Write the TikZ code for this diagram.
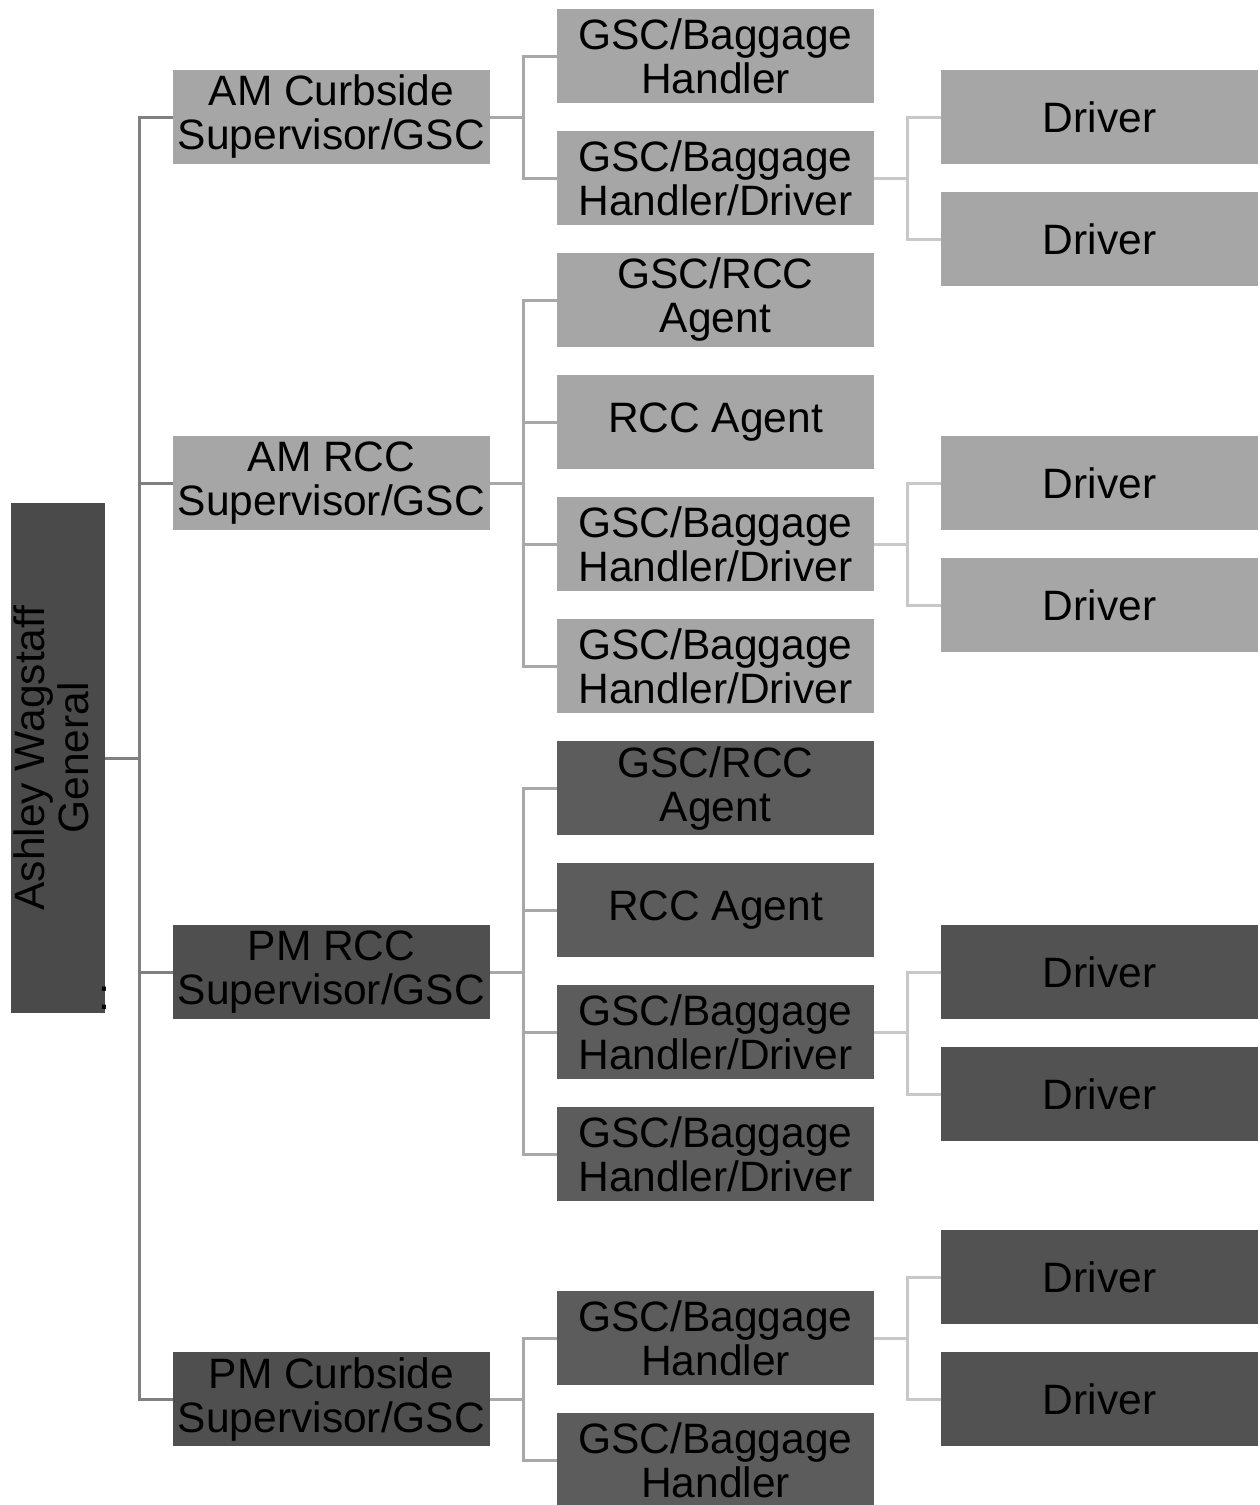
\documentclass[tikz,border=0pt]{standalone}
\usepackage{fontspec}
\setmainfont{Liberation Sans}
\definecolor{rootfill}{HTML}{4A4A4A}
\definecolor{lightfill}{HTML}{A6A6A6}
\definecolor{darkA}{HTML}{4F4F4F}
\definecolor{darkB}{HTML}{5C5C5C}
\definecolor{darkC}{HTML}{525252}
\definecolor{lineA}{HTML}{808080}
\definecolor{lineB}{HTML}{A8A8A8}
\definecolor{lineC}{HTML}{C8C8C8}
\begin{document}
\begin{tikzpicture}[x=1pt,y=-1pt,
  every node/.style={inner sep=0pt, outer sep=0pt},
  orgbox/.style={minimum width=317pt, minimum height=94pt, align=center,
    font=\fontsize{42.5}{44}\selectfont, text=black},
  lightbox/.style={orgbox, fill=lightfill},
  darkone/.style={orgbox, fill=darkA},
  darktwo/.style={orgbox, fill=darkB},
  darkthree/.style={orgbox, fill=darkC},
  rootbox/.style={minimum width=94pt, minimum height=510pt, fill=rootfill,
    font=\fontsize{42.5}{44}\selectfont, text=black},
  linkA/.style={draw=lineA, line width=3pt},
  linkB/.style={draw=lineB, line width=3pt},
  linkC/.style={draw=lineC, line width=3pt}]
\useasboundingbox (0,0) rectangle (1260,1505);

% root
\node[rootbox] (root) at (58,758) {\rotatebox{90}{\begin{tabular}{@{}c@{}}Ashley Wagstaff\\General\end{tabular}}};
\node[font=\fontsize{42.5}{44}\selectfont, anchor=base, text=black] (colon) at (104,1009) {:};

% level 1
\node[lightbox] (amcurb) at (331.5,117) {AM Curbside\\Supervisor/GSC};
\node[lightbox] (amrcc) at (331.5,483) {AM RCC\\Supervisor/GSC};
\node[darkone] (pmrcc) at (331.5,972) {PM RCC\\Supervisor/GSC};
\node[darkone] (pmcurb) at (331.5,1399) {PM Curbside\\Supervisor/GSC};

% level 2
\node[lightbox] (b1) at (715.5,56) {GSC/Baggage\\Handler};
\node[lightbox] (b2) at (715.5,178) {GSC/Baggage\\Handler/Driver};
\node[lightbox] (b3) at (715.5,300) {GSC/RCC\\Agent};
\node[lightbox] (b4) at (715.5,422) {RCC Agent};
\node[lightbox] (b5) at (715.5,544) {GSC/Baggage\\Handler/Driver};
\node[lightbox] (b6) at (715.5,666) {GSC/Baggage\\Handler/Driver};
\node[darktwo] (b7) at (715.5,788) {GSC/RCC\\Agent};
\node[darktwo] (b8) at (715.5,910) {RCC Agent};
\node[darktwo] (b9) at (715.5,1032) {GSC/Baggage\\Handler/Driver};
\node[darktwo] (b10) at (715.5,1154) {GSC/Baggage\\Handler/Driver};
\node[darktwo] (b11) at (715.5,1338) {GSC/Baggage\\Handler};
\node[darktwo] (b12) at (715.5,1460) {GSC/Baggage\\Handler};

% level 3
\node[lightbox] (d1) at (1099.5,117) {Driver};
\node[lightbox] (d2) at (1099.5,239) {Driver};
\node[lightbox] (d3) at (1099.5,483) {Driver};
\node[lightbox] (d4) at (1099.5,605) {Driver};
\node[darkthree] (d5) at (1099.5,972) {Driver};
\node[darkthree] (d6) at (1099.5,1094) {Driver};
\node[darkthree] (d7) at (1099.5,1277) {Driver};
\node[darkthree] (d8) at (1099.5,1399) {Driver};

% root connectors
\foreach \c in {amcurb,amrcc,pmrcc,pmcurb}
  \draw[linkA] (root.east) -- ++(34,0) |- (\c.west);

% level 1 -> level 2
\foreach \c in {b1,b2} \draw[linkB] (amcurb.east) -- ++(33,0) |- (\c.west);
\foreach \c in {b3,b4,b5,b6} \draw[linkB] (amrcc.east) -- ++(33,0) |- (\c.west);
\foreach \c in {b7,b8,b9,b10} \draw[linkB] (pmrcc.east) -- ++(33,0) |- (\c.west);
\foreach \c in {b11,b12} \draw[linkB] (pmcurb.east) -- ++(33,0) |- (\c.west);

% level 2 -> level 3
\foreach \c in {d1,d2} \draw[linkC] (b2.east) -- ++(33,0) |- (\c.west);
\foreach \c in {d3,d4} \draw[linkC] (b5.east) -- ++(33,0) |- (\c.west);
\foreach \c in {d5,d6} \draw[linkC] (b9.east) -- ++(33,0) |- (\c.west);
\foreach \c in {d7,d8} \draw[linkC] (b11.east) -- ++(33,0) |- (\c.west);
\end{tikzpicture}
\end{document}
